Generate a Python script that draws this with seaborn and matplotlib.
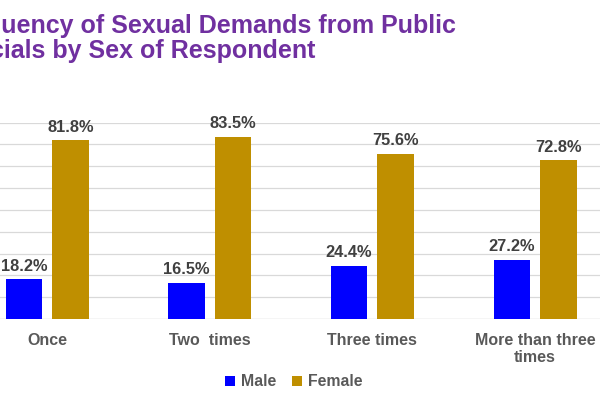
import matplotlib
matplotlib.use("Agg")
import matplotlib.pyplot as plt
import seaborn as sns
import pandas as pd

categories = ["Once", "Two  times", "Three times", "More than three\ntimes"]
male = [18.2, 16.5, 24.4, 27.2]
female = [81.8, 83.5, 75.6, 72.8]
series = ["Male", "Female"]
colors = {"Male": "#0000FF", "Female": "#BF8F00"}
title_lines = ["Frequency of Sexual Demands from Public", "Officials by Sex of Respondent"]

df = pd.DataFrame({
    "category": categories * 2,
    "sex": ["Male"] * 4 + ["Female"] * 4,
    "value": male + female,
})

sns.set_theme(style="white")
plt.rcParams["font.family"] = ["Liberation Sans", "DejaVu Sans"]

fig = plt.figure(figsize=(6, 4), dpi=100)
ax = fig.add_axes([-0.0572, 0.2025, 1.0845, 0.491])

sns.barplot(data=df, x="category", y="value", hue="sex", order=categories,
            hue_order=series, palette=colors, width=0.5716, gap=0.215,
            saturation=1, ax=ax, edgecolor="none")

ax.set_xlim(-0.5, 3.5)
ax.set_ylim(0, 90)
ax.set_yticks(range(0, 91, 10))
ax.yaxis.grid(True, color="#D9D9D9", linewidth=0.9)
ax.set_axisbelow(True)
for s in ax.spines.values():
    s.set_visible(False)
ax.axhline(0, color="#D9D9D9", linewidth=0.9, zorder=0)
ax.tick_params(axis="y", length=0, labelleft=False)
ax.tick_params(axis="x", length=0, pad=10)
ax.set_xlabel("")
ax.set_ylabel("")
for lbl in ax.get_xticklabels():
    lbl.set_fontweight("bold")
    lbl.set_color("#595959")
    lbl.set_fontsize(11.5)

for cont in ax.containers:
    ax.bar_label(cont, fmt="%.1f%%", padding=4, fontweight="bold",
                 color="#404040", fontsize=11.8)

handles, labels = ax.get_legend_handles_labels()
if ax.get_legend() is not None:
    ax.get_legend().remove()
leg = fig.legend(handles, labels, loc="center", bbox_to_anchor=(0.49, 0.045),
                 ncol=2, frameon=False, handlelength=0.6, handleheight=0.6,
                 columnspacing=1.0, handletextpad=0.4,
                 prop={"weight": "bold", "size": 11.4})
for t in leg.get_texts():
    t.set_color("#595959")

fig.text(-53 / 600, 1 - 33 / 400, title_lines[0], ha="left", va="baseline",
         fontsize=18, fontweight="bold", color="#7030A0")
fig.text(-53 / 600, 1 - 58 / 400, title_lines[1], ha="left", va="baseline",
         fontsize=18, fontweight="bold", color="#7030A0")

fig.savefig("out.png", dpi=100)
